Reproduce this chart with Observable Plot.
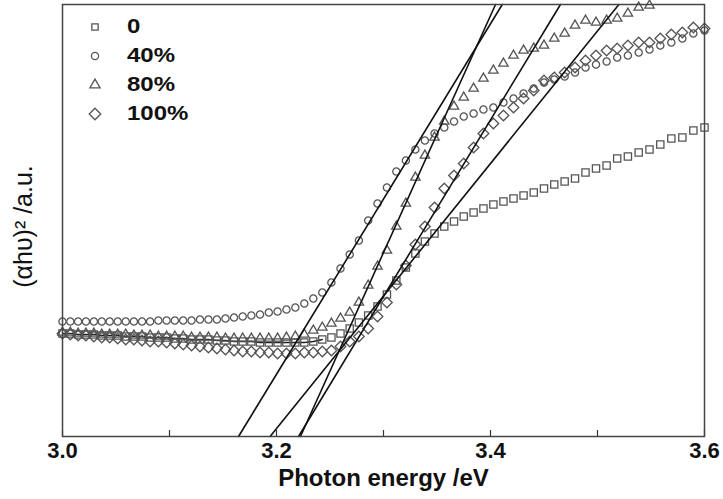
<!DOCTYPE html>
<html><head><meta charset="utf-8">
<script src="https://cdn.jsdelivr.net/npm/d3@7"></script>
<script src="https://cdn.jsdelivr.net/npm/@observablehq/plot@0.6"></script>
<style>
body{margin:0;background:#fff;}
#wrap{position:relative;width:723px;height:499px;font-family:"Liberation Sans",Arial,sans-serif;}
#legend{position:absolute;left:85px;top:12px;}
.row{display:flex;align-items:center;height:29px;}
.row svg{width:20px;height:20px;margin-right:22px;}
.row span{font-weight:bold;font-size:20px;color:#111;display:inline-block;transform:scaleX(1.2);transform-origin:left center;}
</style></head><body><div id="wrap"><div id="legend"></div></div>
<script>
// Photon energy (eV), one value per measured point
const energy = [3.0000,3.0073,3.0146,3.0219,3.0293,3.0367,3.0441,3.0516,3.0591,3.0667,
3.0743,3.0819,3.0896,3.0973,3.1050,3.1128,3.1206,3.1285,3.1364,3.1443,
3.1523,3.1603,3.1684,3.1765,3.1846,3.1928,3.2010,3.2093,3.2176,3.2260,
3.2344,3.2428,3.2513,3.2598,3.2684,3.2770,3.2857,3.2944,3.3032,3.3120,
3.3209,3.3298,3.3387,3.3477,3.3568,3.3659,3.3750,3.3842,3.3934,3.4027,
3.4121,3.4215,3.4309,3.4404,3.4500,3.4596,3.4693,3.4790,3.4888,3.4986,
3.5085,3.5184,3.5284,3.5385,3.5486,3.5587,3.5690,3.5793,3.5896,3.6000];

const seriesNames = ["0", "40%", "80%", "100%"];
const seriesSymbols = ["square2", "circle", "triangle2", "diamond2"];

// (αhυ)² in arbitrary units
const y0 = [103,103,102,102,102,101,101,101,100,100,
100,99,99,99,98,98,97,97,97,96,
96,95,95,95,94,94,94,94,94,94,
95,97,99,103,108,114,121,130,142,156,
169,183,195,203,210,215,220,224,228,232,
235,238,241,244,248,252,255,258,264,268,
271,278,280,284,287,292,298,299,306,309];

const y40 = [115,115,115,115,115,115,115,115,115,115,
115,115,116,116,116,116,116,117,117,117,
118,119,120,121,122,124,125,127,129,133,
138,144,154,168,182,196,216,233,249,265,
276,287,296,303,309,315,320,323,327,329,
334,338,343,348,354,357,360,364,369,372,
375,379,381,384,387,391,394,398,403,406];

const y80 = [104,104,103,103,103,102,102,102,102,101,
101,101,100,100,100,100,99,99,99,99,
98,98,98,98,98,98,98,99,100,102,
106,109,113,118,124,134,151,170,186,210,
233,259,281,299,315,330,339,348,358,366,
373,381,386,388,391,398,403,411,416,414,
416,418,423,429,431,null,null,null,null,null];

const y100 = [103,102,101,101,100,99,99,98,97,97,
96,95,95,94,93,92,91,90,89,88,
87,86,85,85,84,84,83,83,83,84,
84,85,86,90,95,100,108,120,134,152,
171,192,210,229,248,261,273,289,303,313,
321,329,338,346,356,359,364,369,376,381,
386,388,391,394,394,398,402,404,409,408];

// Linear fits: x-intercept (Eg) and energy where the fit reaches the top of the frame
const fitEg   = [3.194, 3.1645, 3.2224, 3.2206];
const fitTopE = [3.520, 3.411, 3.4047, 3.4654];
const yMax = 432;

const xTicks = [3.0, 3.2, 3.4, 3.6];
const xMinorTicks = [3.1, 3.3, 3.5];
const xLabel = "Photon energy /eV";
const yLabel = "(αhυ)² /a.u.";

const allY = [y0, y40, y80, y100];
const points = [];
allY.forEach((arr, s) => arr.forEach((v, i) => {
  if (v != null) points.push({e: energy[i], v, s: seriesNames[s]});
}));
const fits = [];
seriesNames.forEach((n, s) => {
  fits.push({e: fitEg[s], v: 0, s: n});
  fits.push({e: fitTopE[s], v: yMax, s: n});
});
const lowSquares = points.filter(d => d.s === "0" && d.e <= 3.245);

const rBy = {"0": 4.6, "40%": 3.6, "80%": 4.5, "100%": 4.8};
const markStroke = "#555";

const marks = [
  Plot.ruleX([...xTicks, ...xMinorTicks], {x: d => d, y1: 0, y2: 6, stroke: "#333", strokeWidth: 1.2}),
  Plot.axisX({ticks: xTicks, tickSize: 0, tickPadding: 6, tickFormat: d => d.toFixed(1),
    fontSize: 22, fontWeight: "bold", fill: "#111", label: null}),
  Plot.line(lowSquares, {x: "e", y: "v", stroke: "#222", strokeWidth: 1.4}),
];
seriesNames.forEach((n, s) => {
  marks.push(Plot.dot(points.filter(d => d.s === n), {
    x: "e", y: "v", symbol: () => seriesSymbols[s], r: rBy[n],
    stroke: markStroke, strokeWidth: 1.3, fill: "none"
  }));
});
marks.push(Plot.line(fits, {x: "e", y: "v", z: "s", stroke: "#111", strokeWidth: 1.6}));
marks.push(Plot.frame({stroke: "#444", strokeWidth: 1.5}));
marks.push(Plot.text([xLabel], {frameAnchor: "bottom", dy: 49, text: d => d,
  fontSize: 24, fontWeight: "bold", fill: "#111"}));
marks.push(Plot.text([yLabel], {frameAnchor: "left", textAnchor: "middle", rotate: -90, dx: -39, dy: 6, text: d => d,
  fontSize: 25, fill: "#111"}));

const chart = Plot.plot({
  width: 723, height: 499,
  marginLeft: 62, marginRight: 19, marginTop: 4, marginBottom: 63,
  style: {fontFamily: "'Liberation Sans', Arial, sans-serif", background: "#fff", overflow: "visible"},
  x: {domain: [3.0, 3.6], axis: null},
  y: {domain: [0, yMax], axis: null},
  symbol: {domain: ["square2","circle","triangle2","diamond2"], range: ["square2","circle","triangle2","diamond2"]},
  marks
});
document.getElementById("wrap").prepend(chart);

// Legend
const legend = d3.select("#legend");
const legendSize = {"0": 50, "40%": 40, "80%": 75, "100%": 85};
seriesNames.forEach((n, s) => {
  const row = legend.append("div").attr("class", "row");
  const sv = row.append("svg").attr("viewBox", "-10 -10 20 20");
  const sym = {square2: d3.symbolSquare2, circle: d3.symbolCircle, triangle2: d3.symbolTriangle2, diamond2: d3.symbolDiamond2}[seriesSymbols[s]];
  sv.append("path").attr("d", d3.symbol(sym, legendSize[n])()).attr("fill", "none").attr("stroke", markStroke).attr("stroke-width", 1.3);
  row.append("span").text(n);
});
</script></body></html>
